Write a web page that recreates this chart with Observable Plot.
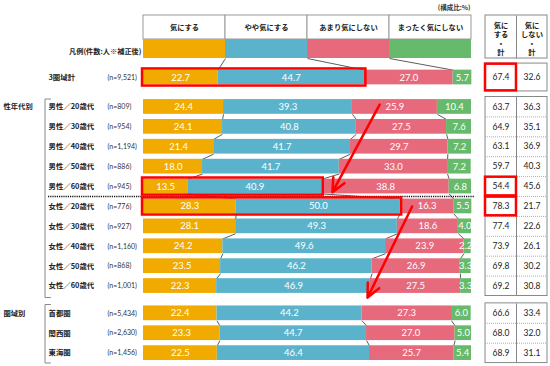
<!DOCTYPE html>
<html><head><meta charset="utf-8">
<script src="https://cdn.jsdelivr.net/npm/d3@7"></script>
<script src="https://cdn.jsdelivr.net/npm/@observablehq/plot@0.6"></script>
<style>body{margin:0;background:#fff} #chart svg{display:block}</style>
</head><body><div id="chart"></div>
<script>
// ---- data ----
const categories = ["気にする", "やや気にする", "あまり気にしない", "まったく気にしない"];
const rowLabels = ["3圏域計",
  "男性／20歳代", "男性／30歳代", "男性／40歳代", "男性／50歳代", "男性／60歳代",
  "女性／20歳代", "女性／30歳代", "女性／40歳代", "女性／50歳代", "女性／60歳代",
  "首都圏", "関西圏", "東海圏"];
const rowGroup = [0, 1, 1, 1, 1, 1, 1, 1, 1, 1, 1, 2, 2, 2];
const groupLabels = ["", "性年代別", "圏域別"];
const nLabels = ["(n=9,521)", "(n=809)", "(n=954)", "(n=1,194)", "(n=886)", "(n=945)",
  "(n=776)", "(n=927)", "(n=1,160)", "(n=868)", "(n=1,001)", "(n=5,434)", "(n=2,630)", "(n=1,456)"];
const kinisuru = [22.7, 24.4, 24.1, 21.4, 18.0, 13.5, 28.3, 28.1, 24.2, 23.5, 22.3, 22.4, 23.3, 22.5];
const yaya     = [44.7, 39.3, 40.8, 41.7, 41.7, 40.9, 50.0, 49.3, 49.6, 46.2, 46.9, 44.2, 44.7, 46.4];
const amari    = [27.0, 25.9, 27.5, 29.7, 33.0, 38.8, 16.3, 18.6, 23.9, 26.9, 27.5, 27.3, 27.0, 25.7];
const mattaku  = [5.7, 10.4, 7.6, 7.2, 7.2, 6.8, 5.5, 4.0, 2.2, 3.3, 3.3, 6.0, 5.0, 5.4];
const kiniSuruKei   = [67.4, 63.7, 64.9, 63.1, 59.7, 54.4, 78.3, 77.4, 73.9, 69.8, 69.2, 66.6, 68.0, 68.9];
const kiniShinaiKei = [32.6, 36.3, 35.1, 36.9, 40.3, 45.6, 21.7, 22.6, 26.1, 30.2, 30.8, 33.4, 32.0, 31.1];
const tableHeaders = ["気に\nする\n・\n計", "気に\nしない\n・\n計"];
const unitNote = "(構成比:%)";
const legendLabel = "凡例(件数:人※補正後)";
const highlightRows = ["3圏域計", "男性／60歳代", "女性／20歳代"];
const arrowPairs = [["男性／20歳代", "男性／60歳代"], ["女性／20歳代", "女性／60歳代"]];

// ---- layout helpers ----
const colors = ["#F0AA00", "#5BB3CB", "#E66A7C", "#67B96B"];
const X = px => (px - 143) / 3.28;   // pixel -> percent units
const Y = py => (py - 77) / 19.9;    // pixel -> row-slot units
const groupStart = [0, 1.48, 11.85];
const groupFirst = [0, 1, 11];
const slotOf = i => groupStart[rowGroup[i]] + (i - groupFirst[rowGroup[i]]);
const H = 0.37;
const series = [kinisuru, yaya, amari, mattaku];

const rows = rowLabels.map((name, i) => {
  const vals = series.map(s => s[i]);
  const cum = [0]; vals.forEach(v => cum.push(cum[cum.length - 1] + v));
  return {name, i, slot: slotOf(i), group: rowGroup[i], n: nLabels[i], vals, cum,
    kei1: kiniSuruKei[i], kei2: kiniShinaiKei[i]};
});
const byName = Object.fromEntries(rows.map(r => [r.name, r]));

const segs = rows.flatMap(r => r.vals.map((v, k) => ({
  row: r.name, slot: r.slot, cat: categories[k], v, x1: r.cum[k], x2: r.cum[k + 1], k
})));

// connectors between consecutive rows of the same group
const links = [];
rows.forEach((r, i) => {
  const nx = rows[i + 1];
  if (nx && nx.group === r.group && r.group > 0) {
    for (let b = 1; b <= 3; b++) links.push({x1: r.cum[b], y1: r.slot + H, x2: nx.cum[b], y2: nx.slot - H});
  }
});
// legend -> total connectors
const legendTop = Y(39), legendBot = Y(58), headTop = Y(15);
for (let b = 1; b <= 3; b++) links.push({x1: b * 25, y1: legendBot, x2: rows[0].cum[b], y2: rows[0].slot - H});

const legendCells = categories.map((c, k) => ({cat: c, x1: k * 25, x2: (k + 1) * 25}));

// right table
const tX0 = X(485), tX1 = X(516), tX2 = X(547);
const cellHalf = i => (i === 0 ? 0.7 : 0.5);
const groupBoxes = [0, 1, 2].map(g => {
  const rs = rows.filter(r => r.group === g);
  return {y1: rs[0].slot - cellHalf(rs[0].i), y2: rs[rs.length - 1].slot + cellHalf(rs[rs.length - 1].i)};
});
const tableSeps = rows.filter((r, i) => rows[i + 1] && rows[i + 1].group === r.group).map(r => ({y: r.slot + 0.5}));

const hl = highlightRows.map(n => byName[n]);
const arrowOffsets = [{fx: 72, fdy: -0.12, tx: 57.6, tdy: 0.28}, {fx: 81.9, fdy: 0.0, tx: 68.3, tdy: 0.58}];
const arrows = arrowPairs.map(([a, b], j) => ({
  x1: arrowOffsets[j].fx, y1: byName[a].slot + arrowOffsets[j].fdy,
  x2: arrowOffsets[j].tx, y2: byName[b].slot + arrowOffsets[j].tdy
}));

const brackets = [
  [[50, 98.5], [44.5, 98.5], [44.5, 297], [50, 297]],
  [[50, 304], [44.5, 304], [44.5, 362.5], [50, 362.5]]
].flatMap((pts, g) => pts.map(([px, py]) => ({g, x: X(px), y: Y(py)})));

const jp = "'Noto Sans CJK JP', 'Noto Sans', sans-serif";
const num = "Lato, 'DejaVu Sans', sans-serif";

const chart = Plot.plot({
  width: 550, height: 366,
  margin: 0,
  x: {domain: [0, 100], range: [143, 471], axis: null},
  y: {domain: [0, 13.85], range: [77, 77 + 13.85 * 19.9], axis: null},
  color: {domain: categories, range: colors},
  style: {background: "#fff"},
  marks: [
    // header boxes
    Plot.rect(legendCells, {x1: "x1", x2: "x2", y1: headTop, y2: legendTop, fill: "#fff", stroke: "#999", strokeWidth: 1}),
    Plot.text(legendCells, {x: d => (d.x1 + d.x2) / 2, y: Y(27), text: "cat", fontFamily: jp, fontWeight: "bold", fontSize: 7.3, fill: "#222"}),
    Plot.rect(legendCells, {x1: "x1", x2: "x2", y1: legendTop, y2: legendBot, fill: "cat"}),
    Plot.text([legendLabel], {x: X(141), y: Y(51), text: d => d, textAnchor: "end", fontFamily: jp, fontWeight: "bold", fontSize: 7.2, fill: "#222"}),
    Plot.text([unitNote], {x: X(470), y: Y(7), text: d => d, textAnchor: "end", fontFamily: jp, fontWeight: "bold", fontSize: 6.5, fill: "#333"}),
    // connectors
    Plot.link(links, {x1: "x1", y1: "y1", x2: "x2", y2: "y2", stroke: "#333", strokeWidth: 0.8}),
    // bars
    Plot.rect(segs, {x1: "x1", x2: "x2", y1: d => d.slot - H, y2: d => d.slot + H, fill: "cat"}),
    Plot.text(segs, {
      x: d => d.k === 3 ? Math.min((d.x1 + d.x2) / 2, 98.2) : (d.x1 + d.x2) / 2,
      y: "slot", text: d => d.v.toFixed(1), fill: "#fff", fontFamily: num, fontSize: 9.5
    }),
    // dotted separator male/female
    Plot.ruleY([(byName["男性／60歳代"].slot + byName["女性／20歳代"].slot) / 2], {x1: X(48), x2: X(474), stroke: "#111", strokeWidth: 1.5, strokeDasharray: "1.2,1"}),
    // row labels
    Plot.text(rows, {x: X(48), y: "slot", text: "name", textAnchor: "start", fontFamily: jp, fontWeight: "bold", fontSize: 7.4, fill: "#222"}),
    Plot.text(rows, {x: X(107), y: "slot", text: "n", textAnchor: "start", fontFamily: num, fontSize: 7, fill: "#333"}),
    Plot.text([1, 2], {x: X(3), y: g => groupStart[g], text: g => groupLabels[g], textAnchor: "start", fontFamily: jp, fontWeight: "bold", fontSize: 7.3, fill: "#222"}),
    Plot.line(brackets, {x: "x", y: "y", z: "g", stroke: "#888", strokeWidth: 1}),
    // right table header
    Plot.rect([0], {x1: tX0, x2: tX2, y1: headTop, y2: Y(58), fill: "#fff", stroke: "#888"}),
    Plot.link([0], {x1: tX1, x2: tX1, y1: headTop, y2: Y(58), stroke: "#888"}),
    Plot.text(tableHeaders, {x: (d, j) => j === 0 ? (tX0 + tX1) / 2 : (tX1 + tX2) / 2, y: Y(38), text: d => d, fontFamily: jp, fontWeight: "bold", fontSize: 7.3, lineHeight: 1.22, fill: "#222"}),
    // right table body
    Plot.ruleY(tableSeps, {y: "y", x1: tX0, x2: tX2, stroke: "#999", strokeWidth: 0.8, strokeDasharray: "1,1"}),
    Plot.rect(groupBoxes, {x1: tX0, x2: tX2, y1: "y1", y2: "y2", fill: "none", stroke: "#888"}),
    Plot.link(groupBoxes, {x1: tX1, x2: tX1, y1: "y1", y2: "y2", stroke: "#888"}),
    Plot.text(rows, {x: (tX0 + tX1) / 2, y: "slot", text: d => d.kei1.toFixed(1), fontFamily: num, fontSize: 8.5, fill: "#222"}),
    Plot.text(rows, {x: (tX1 + tX2) / 2, y: "slot", text: d => d.kei2.toFixed(1), fontFamily: num, fontSize: 8.5, fill: "#222"}),
    // highlights
    Plot.rect(hl, {x1: -0.3, x2: d => d.cum[2] + 0.4, y1: d => d.slot - H - 0.06, y2: d => d.slot + H + 0.06, fill: "none", stroke: "#F00", strokeWidth: 2.5}),
    Plot.rect(hl, {x1: tX0, x2: tX1, y1: d => d.slot - cellHalf(d.i) + 0.03, y2: d => d.slot + cellHalf(d.i) - 0.03, fill: "none", stroke: "#F00", strokeWidth: 2.5}),
    Plot.arrow(arrows, {x1: "x1", y1: "y1", x2: "x2", y2: "y2", stroke: "#F00", strokeWidth: 2.5, headLength: 9, headAngle: 50})
  ]
});
document.getElementById("chart").append(chart);
</script>
</body></html>
